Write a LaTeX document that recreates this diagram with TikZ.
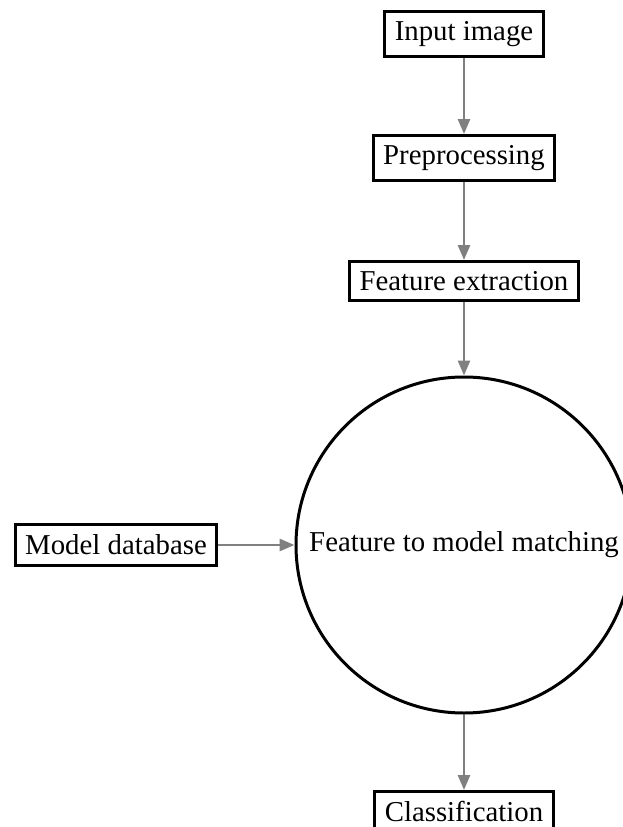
\documentclass[tikz,border=0pt]{standalone}
\usepackage{fontspec}
\setmainfont{Liberation Serif}
\usetikzlibrary{arrows.meta}
\begin{document}
\begin{tikzpicture}[x=1pt,y=-1pt,
  stagebox/.style={draw=black,line width=3pt,fill=white,font=\fontsize{28.8}{32}\selectfont,
    inner xsep=10pt,inner ysep=10pt},
  matchcircle/.style={circle,draw=black,line width=3pt,minimum size=336pt,inner sep=0pt,
    font=\fontsize{28.8}{32}\selectfont},
  flow/.style={draw={rgb,255:red,128;green,128;blue,128},line width=2.8pt,
    -{Triangle[length=15pt,width=12pt]}}]
\useasboundingbox (0,0) rectangle (623,827);
\node[stagebox,anchor=north] (input) at (464,10) {Input image};
\node[stagebox,anchor=north] (pre) at (464,134) {Preprocessing};
\node[stagebox,anchor=north] (feat) at (464,260) {Feature extraction};
\node[matchcircle] (match) at (464,545) {Feature to model matching};
\node[stagebox] (db) at (116,545) {Model database};
\node[stagebox,anchor=north] (cls) at (464,790) {Classification};
\draw[flow] (input) -- (pre);
\draw[flow] (pre) -- (feat);
\draw[flow] (feat) -- (match);
\draw[flow] (db) -- (match);
\draw[flow] (match) -- (cls);
\end{tikzpicture}
\end{document}
